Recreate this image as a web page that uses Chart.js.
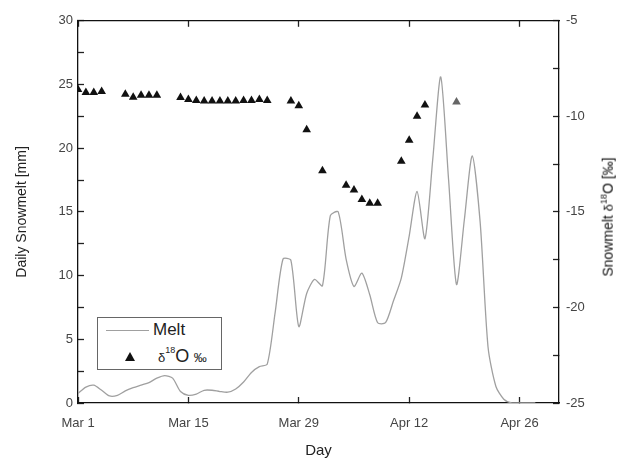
<!DOCTYPE html>
<html>
<head>
<meta charset="utf-8">
<script src="https://cdn.jsdelivr.net/npm/chart.js@4/dist/chart.umd.min.js"></script>
<style>
  html, body { margin: 0; padding: 0; background: #fff; }
  #wrap { position: relative; width: 618px; height: 462px; font-family: "Liberation Sans", Arial, sans-serif; }
  #c { position: absolute; left: 0; top: 0; }
  #legend { position: absolute; left: 97px; top: 317px; width: 123px; height: 51px; border: 1px solid #666; background: #fff; }
  #legend .ln { position: absolute; left: 8px; top: 12px; width: 43px; border-top: 1.3px solid #a0a0a0; }
  #legend .t1 { position: absolute; left: 55px; top: 2px; font-size: 17px; color: #222; }
  #legend .tri { position: absolute; left: 27px; top: 34px; width: 0; height: 0; border-left: 5px solid transparent; border-right: 5px solid transparent; border-bottom: 9px solid #111; }
  #legend .t2 { position: absolute; left: 60px; top: 27px; color: #222; white-space: nowrap; }
  #rtitle { position: absolute; left: 607px; top: 217px; transform: translate(-50%, -50%) rotate(-90deg); white-space: nowrap; font-size: 14px; color: #111; }
  sup { font-size: 60%; }
</style>
</head>
<body>
<div id="wrap">
  <canvas id="c" width="618" height="462"></canvas>
  <div id="legend">
    <div class="ln"></div>
    <div class="t1">Melt</div>
    <div class="tri"></div>
    <div class="t2"><span style="font-size:13px">δ</span><sup style="font-size:9px;vertical-align:9px">18</sup><span style="font-size:18px">O</span> <span style="font-size:13px">‰</span></div>
  </div>
  <div id="rtitle">Snowmelt <span style="font-size:13px">δ</span><sup style="font-size:9px">18</sup>O [‰]</div>
</div>
<script>
// ---- data (day 0 = Mar 1) ----
const meltDays = [0,1,2,3,4,5,6,7,8,9,10,11,12,13,14,15,16,17,18,19,20,21,22,23,24,25,26,27,28,29,30,31,32,33,34,35,36,37,38,39,40,41,42,43,44,45,46,47,48,49,50,51,52,53,54,55,56,57,58];
const meltValues = [0.75,1.25,1.4,1.0,0.55,0.6,0.95,1.2,1.4,1.6,1.95,2.15,1.95,0.9,0.6,0.7,1.0,1.0,0.9,0.85,1.1,1.65,2.4,2.85,3.05,7.1,11.3,11.2,6.0,8.6,9.7,9.2,14.7,15.0,11.3,9.15,10.2,8.5,6.3,6.3,8.0,9.8,13.1,16.6,12.9,19.2,25.6,17.5,9.3,14.4,19.4,14.2,4.4,1.3,0.3,0,0,0,0];

const isoDays = [0,1,2,3,6,7,8,9,10,13,14,15,16,17,18,19,20,21,22,23,24,27,28,29,31,34,35,36,37,38,41,42,43,44,48];
const isoValues = [-8.6,-8.75,-8.75,-8.7,-8.85,-9.0,-8.9,-8.9,-8.9,-9.02,-9.12,-9.17,-9.2,-9.2,-9.2,-9.2,-9.2,-9.17,-9.17,-9.12,-9.17,-9.2,-9.45,-10.7,-12.85,-13.6,-13.85,-14.35,-14.55,-14.55,-12.35,-11.25,-10.0,-9.4,-9.25];

const xTickDays = [0,14,28,42,56];
const xTickLabels = ['Mar 1','Mar 15','Mar 29','Apr 12','Apr 26'];

// ---- chart ----
const meltPts = meltDays.map((d,i)=>({x:d, y:meltValues[i]}));
const isoPts = isoDays.map((d,i)=>({x:d, y:isoValues[i]}));
const tickFont = {family:'"Liberation Sans", Arial, sans-serif', size:13};
const tickColor = '#444';
const axisBorder = {display:true, color:'#111', width:1.3};
const gridTicks = {display:true, drawOnChartArea:false, drawTicks:true, tickLength:-6, tickColor:'#222', tickWidth:1.3};

new Chart(document.getElementById('c'), {
  type: 'line',
  data: {
    datasets: [
      { label:'Melt', data: meltPts, xAxisID:'x', yAxisID:'y', borderColor:'#a0a0a0', borderWidth:1.3, pointRadius:0, tension:0.25, fill:false, order:2 },
      { label:'δ18O ‰', data: isoPts, xAxisID:'x', yAxisID:'y2', showLine:false, pointStyle:'triangle', pointRadius:5, pointBorderWidth:0,
        pointBackgroundColor: ctx => ctx.dataIndex === isoValues.length-1 ? '#666' : '#111',
        pointBorderColor: ctx => ctx.dataIndex === isoValues.length-1 ? '#666' : '#111', order:1 }
    ]
  },
  options: {
    responsive:false, animation:false, devicePixelRatio:1,
    layout:{padding:0},
    plugins:{ legend:{display:false}, tooltip:{enabled:false} },
    scales: {
      x: { type:'linear', position:'bottom', min:0, max:61,
        afterBuildTicks: s => { s.ticks = xTickDays.map(v=>({value:v})); },
        afterFit: s => { s.height = 59; },
        ticks:{ autoSkip:false, maxRotation:0, padding:19, font:tickFont, color:tickColor,
          callback: v => { const i = xTickDays.indexOf(v); return i>=0 ? xTickLabels[i] : ''; } },
        grid: gridTicks, border: axisBorder,
        title:{display:true, text:'Day', font:{family:'"Liberation Sans", Arial, sans-serif', size:15}, color:'#222', padding:{top:0,bottom:2}} },
      xTop: { type:'linear', position:'top', min:0, max:61,
        afterBuildTicks: s => { s.ticks = xTickDays.map(v=>({value:v})); },
        afterFit: s => { s.height = 17; },
        ticks:{ autoSkip:false, maxRotation:0, padding:0, font:{size:1}, callback: () => '' },
        grid: gridTicks, border: axisBorder },
      y: { type:'linear', position:'left', min:0, max:30,
        afterFit: s => { s.width = 78; },
        ticks:{ stepSize:2.5, autoSkip:false, padding:11, font:tickFont, color:tickColor,
          callback: v => (v % 5 === 0 ? String(v) : '') },
        grid: gridTicks, border: axisBorder,
        title:{display:true, text:'Daily Snowmelt [mm]', font:{family:'"Liberation Sans", Arial, sans-serif', size:14}, color:'#222', padding:{top:14,bottom:0}} },
      y2: { type:'linear', position:'right', min:-25, max:-5,
        afterFit: s => { s.width = 59; },
        ticks:{ stepSize:2.5, autoSkip:false, padding:13, font:tickFont, color:tickColor,
          callback: v => (v % 5 === 0 ? String(v) : '') },
        grid: gridTicks, border: axisBorder }
    }
  }
});
</script>
</body>
</html>
